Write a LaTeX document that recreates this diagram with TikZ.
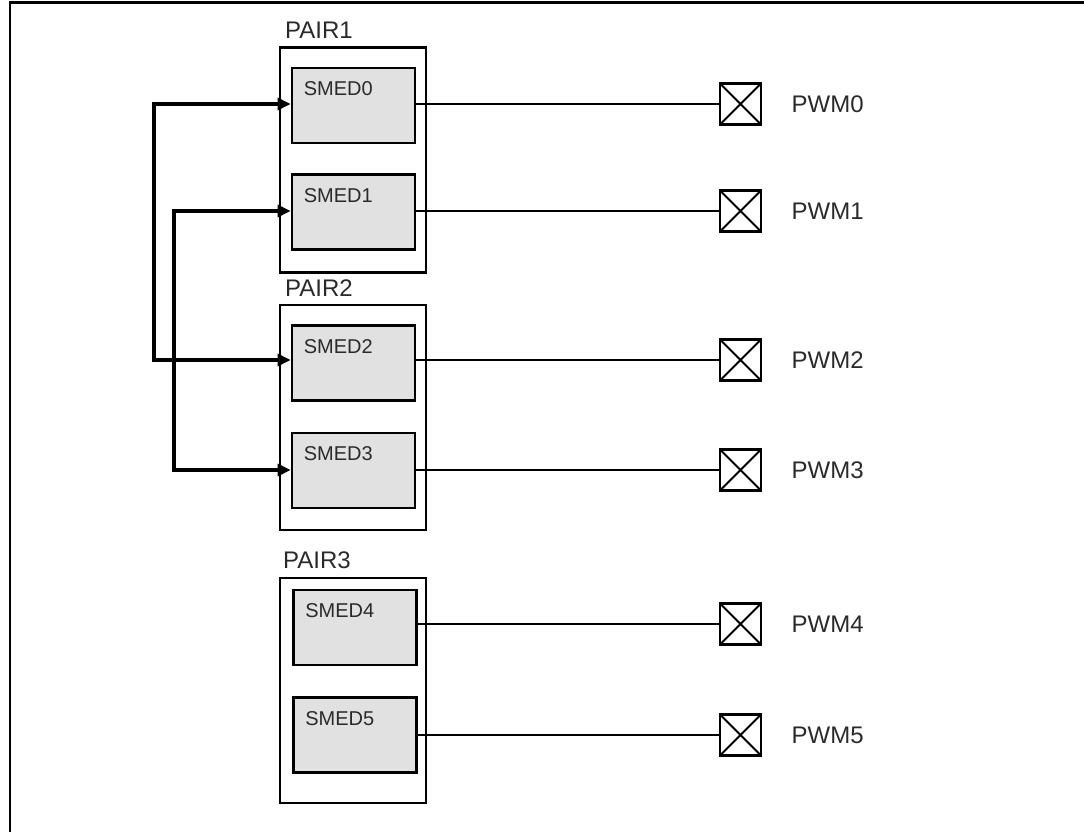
\documentclass[tikz,border=0pt]{standalone}
\usepackage{fontspec}
\setmainfont{Liberation Sans}
\usetikzlibrary{arrows.meta,calc}
\definecolor{txtgray}{HTML}{2A2A2A}
\definecolor{smedfill}{HTML}{E1E1E1}
\tikzset{
  pairbox/.style={draw=black,line width=2.2pt,fill=white,minimum width=146pt,minimum height=225pt,inner sep=0pt},
  smedbox/.style={draw=black,line width=2.8pt,fill=smedfill,minimum width=123pt,minimum height=75pt,inner sep=0pt},
  pad/.style={draw=black,line width=2.4pt,minimum width=41pt,minimum height=41pt,inner sep=0pt,
    path picture={\draw[line width=2pt] (path picture bounding box.north west) -- (path picture bounding box.south east)
      (path picture bounding box.north east) -- (path picture bounding box.south west);}},
  bigtext/.style={font=\fontsize{24}{28}\selectfont,text=txtgray,inner sep=0pt,anchor=base west},
  smedtext/.style={font=\fontsize{20}{24}\selectfont,text=txtgray,inner sep=0pt,anchor=base west},
  wire/.style={draw=black,line width=2pt},
  feed/.style={draw=black,line width=3.4pt,line join=miter,{Triangle[length=13pt,width=12pt]}-{Triangle[length=13pt,width=12pt]}},
}
\begin{document}
\begin{tikzpicture}[x=1pt,y=-1pt]
\useasboundingbox (0,0) rectangle (1084,832);
% frame
\coordinate (fbl) at (10,833);
\coordinate (ftl) at (10,2.5);
\coordinate (ftr) at (1085,2.5);
\draw[line width=2.8pt,line join=miter] (fbl) -- (ftl) -- (ftr);
% pair boxes
\node[pairbox] (pair1) at (353,160) {};
\node[pairbox] (pair2) at (353,417.5) {};
\node[pairbox] (pair3) at (353,690.5) {};
\node[bigtext] (pair1t) at ($(pair1.north west)+(6,-8)$) {PAIR1};
\node[bigtext] (pair2t) at ($(pair2.north west)+(6,-7)$) {PAIR2};
\node[bigtext] (pair3t) at ($(pair3.north west)+(4,-8)$) {PAIR3};
% smed boxes
\node[smedbox] (s0) at (353.5,105.5) {};
\node[smedbox] (s1) at (353.5,212) {};
\node[smedbox] (s2) at (353.5,363) {};
\node[smedbox] (s3) at (353.5,470.5) {};
\node[smedbox] (s4) at (355,627.5) {};
\node[smedbox] (s5) at (355,735) {};
\foreach \i in {0,...,5}{
  \node[smedtext] (s\i t) at ($(s\i.north west)+(13,29)$) {SMED\i};
}
% pads
\node[pad] (p0) at (740.5,104) {};
\node[pad] (p1) at (740.5,211) {};
\node[pad] (p2) at (740.5,360) {};
\node[pad] (p3) at (740.5,470) {};
\node[pad] (p4) at (740.5,624) {};
\node[pad] (p5) at (740.5,735) {};
\foreach \i in {0,...,5}{
  \node[bigtext] (l\i) at ($(p\i.center)+(51,8.5)$) {PWM\i};
  \draw[wire] (s\i.east |- p\i.west) -- (p\i.west);
}
% feed arrows
\coordinate (a0) at (154,104);
\coordinate (a2) at (154,360);
\coordinate (a1) at (174,211);
\coordinate (a3) at (174,470);
\draw[feed] (s0.west |- a0) -- (a0) -- (a2) -- (s2.west |- a2);
\draw[feed] (s1.west |- a1) -- (a1) -- (a3) -- (s3.west |- a3);
\end{tikzpicture}
\end{document}
